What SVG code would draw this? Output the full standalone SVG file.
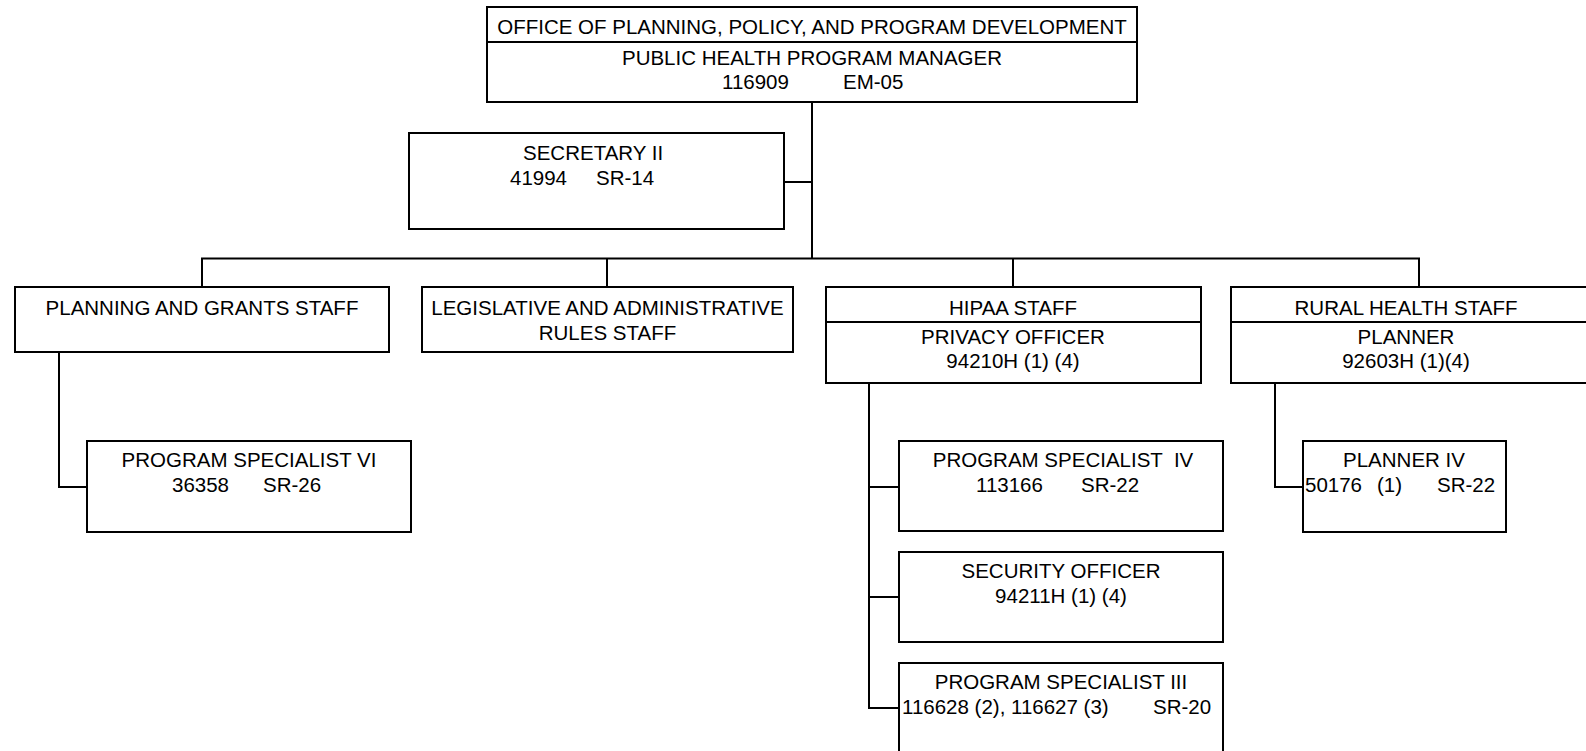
<svg xmlns="http://www.w3.org/2000/svg" width="1586" height="751" viewBox="0 0 1586 751">
<style>
.box{fill:#fff;stroke:#000;stroke-width:2}
.div{stroke:#000;stroke-width:2}
.con{fill:none;stroke:#000;stroke-width:2}
text{font-family:"Liberation Sans",Arial,sans-serif;font-size:20.5px;fill:#000}
.c{text-anchor:middle}
</style>
<rect width="1586" height="751" fill="#fff"/>
<g id="connectors">
<path class="con" d="M812 102V258.5M783 182H812M202 287V258.5H1419V287M607 258.5V287M1013 258.5V287"/>
<path class="con" d="M59 352V487H87"/>
<path class="con" d="M869 383V708H899M869 487H899M869 597H899"/>
<path class="con" d="M1275 383V487H1303"/>
</g>
<g id="office">
<rect class="box" x="487" y="7" width="650" height="95"/>
<line class="div" x1="487" y1="42" x2="1137" y2="42"/>
<text class="c" x="812" y="33.5">OFFICE OF PLANNING, POLICY, AND PROGRAM DEVELOPMENT</text>
<text class="c" x="812" y="65">PUBLIC HEALTH PROGRAM MANAGER</text>
<text y="89"><tspan x="722">116909</tspan><tspan x="843">EM-05</tspan></text>
</g>
<g id="secretary">
<rect class="box" x="409" y="133" width="375" height="96"/>
<text x="523" y="160">SECRETARY II</text>
<text y="185"><tspan x="510">41994</tspan><tspan x="596">SR-14</tspan></text>
</g>
<g id="planning">
<rect class="box" x="15" y="287" width="374" height="65"/>
<text class="c" x="202" y="314.5">PLANNING AND GRANTS STAFF</text>
</g>
<g id="legislative">
<rect class="box" x="422" y="287" width="371" height="65"/>
<text class="c" x="607.5" y="314.5">LEGISLATIVE AND ADMINISTRATIVE</text>
<text class="c" x="607.5" y="339.5">RULES STAFF</text>
</g>
<g id="hipaa">
<rect class="box" x="826" y="287" width="375" height="96"/>
<line class="div" x1="826" y1="322" x2="1201" y2="322"/>
<text class="c" x="1013" y="314.5">HIPAA STAFF</text>
<text class="c" x="1013" y="343.5">PRIVACY OFFICER</text>
<text class="c" x="1013" y="367.5">94210H (1) (4)</text>
</g>
<g id="rural">
<rect class="box" x="1231" y="287" width="375" height="96"/>
<line class="div" x1="1231" y1="322" x2="1606" y2="322"/>
<text class="c" x="1406" y="314.5">RURAL HEALTH STAFF</text>
<text class="c" x="1406" y="343.5">PLANNER</text>
<text class="c" x="1406" y="367.5">92603H (1)(4)</text>
</g>
<g id="ps6">
<rect class="box" x="87" y="441" width="324" height="91"/>
<text class="c" x="249" y="467">PROGRAM SPECIALIST VI</text>
<text y="492"><tspan x="172">36358</tspan><tspan x="263">SR-26</tspan></text>
</g>
<g id="ps4">
<rect class="box" x="899" y="441" width="324" height="90"/>
<text class="c" x="1063" y="467" xml:space="preserve">PROGRAM SPECIALIST  IV</text>
<text y="492"><tspan x="976">113166</tspan><tspan x="1081">SR-22</tspan></text>
</g>
<g id="security">
<rect class="box" x="899" y="552" width="324" height="90"/>
<text class="c" x="1061" y="578">SECURITY OFFICER</text>
<text class="c" x="1061" y="603">94211H (1) (4)</text>
</g>
<g id="ps3">
<rect class="box" x="899" y="663" width="324" height="100"/>
<text class="c" x="1061" y="689">PROGRAM SPECIALIST III</text>
<text y="714"><tspan x="902">116628 (2), 116627 (3)</tspan><tspan x="1153">SR-20</tspan></text>
</g>
<g id="planner4">
<rect class="box" x="1303" y="441" width="203" height="91"/>
<text class="c" x="1404" y="467">PLANNER IV</text>
<text y="492"><tspan x="1305">50176</tspan><tspan x="1377">(1)</tspan><tspan x="1437">SR-22</tspan></text>
</g>
</svg>
